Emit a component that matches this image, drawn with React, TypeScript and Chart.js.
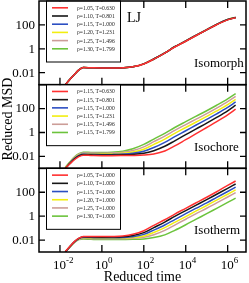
import React, { useEffect, useRef } from "react";
import { Chart, registerables } from "chart.js";
Chart.register(...registerables);

// shared reduced-time grid
const times = [0.018, 0.03, 0.05, 0.08, 0.13, 0.3, 1, 3, 10, 30, 100, 300, 1000, 3000, 1e4, 3e4, 1e5, 3e5, 1e6, 2.4e6];

const colors = ["#ff3030", "#161616", "#2c4fc2", "#f2ee10", "#cc9d98", "#6cc33c"];

const xTickValues = [1e-2, 1, 1e2, 1e4, 1e6];
const xTickExponents = ["-2", "0", "2", "4", "6"];
const yTickValues = [0.01, 1, 100];
const yTickLabels = ["0.01", "1", "100"];

// Isomorph panel
const isomorphLabels = ["ρ=1.05, T=0.630", "ρ=1.10, T=0.801", "ρ=1.15, T=1.000", "ρ=1.20, T=1.231", "ρ=1.25, T=1.496", "ρ=1.30, T=1.799"];
const isomorph105 = [0.001, 0.0028, 0.0075, 0.017, 0.027, 0.026, 0.025, 0.025, 0.026, 0.031, 0.054, 0.135, 0.43, 1.42, 4.3, 12.3, 38, 104, 265, 400];
const isomorph110 = [0.001, 0.0028, 0.0075, 0.017, 0.027, 0.026, 0.025, 0.025, 0.026, 0.031, 0.055, 0.14, 0.44, 1.48, 4.45, 12.8, 39, 108, 275, 412];
const isomorph115 = [0.001, 0.0028, 0.0075, 0.017, 0.027, 0.026, 0.025, 0.025, 0.026, 0.031, 0.055, 0.14, 0.45, 1.5, 4.5, 13, 40, 110, 280, 418];
const isomorph120 = [0.001, 0.0028, 0.0075, 0.017, 0.027, 0.026, 0.025, 0.025, 0.026, 0.031, 0.055, 0.14, 0.45, 1.5, 4.5, 13, 40, 110, 282, 420];
const isomorph125 = [0.001, 0.0028, 0.0075, 0.017, 0.027, 0.026, 0.025, 0.025, 0.026, 0.031, 0.055, 0.14, 0.45, 1.5, 4.5, 13, 40, 111, 283, 422];
const isomorph130 = [0.001, 0.0028, 0.0075, 0.017, 0.027, 0.026, 0.025, 0.025, 0.026, 0.031, 0.055, 0.14, 0.45, 1.5, 4.5, 13, 40, 111, 284, 424];

// Isochore panel
const isochoreLabels = ["ρ=1.15, T=0.630", "ρ=1.15, T=0.801", "ρ=1.15, T=1.000", "ρ=1.15, T=1.231", "ρ=1.15, T=1.496", "ρ=1.15, T=1.799"];
const isochoreT0630 = [0.001, 0.0024, 0.0055, 0.0095, 0.0125, 0.012, 0.0115, 0.0115, 0.0117, 0.012, 0.013, 0.016, 0.028, 0.075, 0.25, 0.75, 2.6, 8, 30, 88];
const isochoreT0801 = [0.001, 0.0026, 0.0062, 0.011, 0.014, 0.0135, 0.013, 0.013, 0.0135, 0.0145, 0.018, 0.03, 0.07, 0.2, 0.65, 1.9, 6, 18, 65, 190];
const isochoreT1000 = [0.001, 0.0028, 0.007, 0.012, 0.0155, 0.015, 0.0145, 0.0147, 0.0155, 0.018, 0.027, 0.055, 0.15, 0.45, 1.4, 4, 12.5, 36, 125, 355];
const isochoreT1231 = [0.0011, 0.003, 0.0076, 0.0135, 0.017, 0.0167, 0.0163, 0.0167, 0.018, 0.023, 0.04, 0.1, 0.28, 0.85, 2.6, 7.2, 22, 63, 215, 600];
const isochoreT1496 = [0.0011, 0.0032, 0.0082, 0.015, 0.0195, 0.019, 0.0185, 0.019, 0.022, 0.031, 0.062, 0.17, 0.5, 1.5, 4.6, 12.5, 38, 110, 380, 1060];
const isochoreT1799 = [0.0012, 0.0035, 0.009, 0.0165, 0.022, 0.0215, 0.021, 0.022, 0.027, 0.043, 0.1, 0.28, 0.85, 2.6, 8, 22, 66, 190, 650, 1800];

// Isotherm panel
const isothermLabels = ["ρ=1.05, T=1.000", "ρ=1.10, T=1.000", "ρ=1.15, T=1.000", "ρ=1.20, T=1.000", "ρ=1.25, T=1.000", "ρ=1.30, T=1.000"];
const isothermR105 = [0.0011, 0.003, 0.0078, 0.0145, 0.02, 0.02, 0.0195, 0.02, 0.022, 0.03, 0.06, 0.17, 0.5, 1.5, 4.5, 12.5, 38, 110, 370, 870];
const isothermR110 = [0.001, 0.0029, 0.0075, 0.014, 0.0185, 0.018, 0.0175, 0.0178, 0.019, 0.024, 0.042, 0.11, 0.32, 0.95, 2.9, 8, 24, 68, 210, 490];
const isothermR115 = [0.001, 0.0028, 0.007, 0.013, 0.0165, 0.016, 0.0155, 0.0157, 0.0165, 0.019, 0.03, 0.068, 0.18, 0.52, 1.6, 4.4, 13, 37, 115, 270];
const isothermR120 = [0.001, 0.0027, 0.0068, 0.0125, 0.015, 0.0145, 0.014, 0.0141, 0.0146, 0.016, 0.022, 0.043, 0.11, 0.3, 0.92, 2.6, 7.8, 22, 68, 155];
const isothermR125 = [0.001, 0.0027, 0.0066, 0.012, 0.0135, 0.013, 0.0127, 0.0127, 0.013, 0.0138, 0.017, 0.028, 0.065, 0.18, 0.55, 1.55, 4.6, 13, 40, 92];
const isothermR130 = [0.001, 0.0026, 0.0064, 0.0112, 0.012, 0.0115, 0.011, 0.011, 0.0112, 0.0115, 0.0125, 0.016, 0.027, 0.065, 0.19, 0.53, 1.6, 4.5, 14, 32];

const panels = [
  { id: "y1", name: "Isomorph", labels: isomorphLabels, series: [isomorph105, isomorph110, isomorph115, isomorph120, isomorph125, isomorph130] },
  { id: "y2", name: "Isochore", labels: isochoreLabels, series: [isochoreT0630, isochoreT0801, isochoreT1000, isochoreT1231, isochoreT1496, isochoreT1799] },
  { id: "y3", name: "Isotherm", labels: isothermLabels, series: [isothermR105, isothermR110, isothermR115, isothermR120, isothermR125, isothermR130] },
];

const SERIF = '"Liberation Serif", "DejaVu Serif", serif';

const decor = {
  id: "decor",
  afterDatasetsDraw(chart: any) {
    const ctx = chart.ctx;
    const a = chart.chartArea;
    const xs = chart.scales.x;
    ctx.save();
    panels.forEach((p) => {
      const s = chart.scales[p.id];
      const top = s.top;
      const bottom = s.bottom;
      // frame
      ctx.strokeStyle = "#000";
      ctx.lineWidth = 1.5;
      ctx.strokeRect(a.left, top, a.right - a.left, bottom - top);
      // y ticks
      ctx.lineWidth = 1.3;
      yTickValues.forEach((v, i) => {
        const y = s.getPixelForValue(v);
        ctx.beginPath();
        ctx.moveTo(a.left, y);
        ctx.lineTo(a.left + 6, y);
        ctx.moveTo(a.right, y);
        ctx.lineTo(a.right - 6, y);
        ctx.stroke();
        ctx.fillStyle = "#000";
        ctx.font = "13px " + SERIF;
        ctx.textAlign = "right";
        ctx.textBaseline = "middle";
        ctx.fillText(yTickLabels[i], a.left - 4, y + 0.5);
      });
      // x ticks
      xTickValues.forEach((v) => {
        const x = xs.getPixelForValue(v);
        ctx.beginPath();
        ctx.moveTo(x, top);
        ctx.lineTo(x, top + 7);
        ctx.moveTo(x, bottom);
        ctx.lineTo(x, bottom - 7);
        ctx.stroke();
      });
      // legend box (drawn over the ticks)
      const lx = 46, lw = 74, lh = 61;
      ctx.fillStyle = "#fff";
      ctx.fillRect(lx, top + 0.75, lw, lh);
      ctx.lineWidth = 1;
      ctx.strokeStyle = "#000";
      ctx.strokeRect(lx + 0.5, top, lw, lh);
      p.labels.forEach((lab, i) => {
        const yy = top + 6.8 + i * 8.2;
        ctx.strokeStyle = colors[i];
        ctx.lineWidth = 1.6;
        ctx.beginPath();
        ctx.moveTo(52, yy);
        ctx.lineTo(68, yy);
        ctx.stroke();
        ctx.fillStyle = "#222";
        ctx.font = "5.6px " + SERIF;
        ctx.textAlign = "left";
        ctx.textBaseline = "middle";
        ctx.fillText(lab, 77, yy + 0.5);
      });
      // panel name
      ctx.fillStyle = "#000";
      ctx.font = "13px " + SERIF;
      ctx.textAlign = "left";
      ctx.textBaseline = "alphabetic";
      ctx.fillText(p.name, 194, top + 66);
    });
    // LJ
    const s1 = chart.scales[panels[0].id];
    ctx.fillStyle = "#000";
    ctx.font = "14px " + SERIF;
    ctx.textAlign = "left";
    ctx.textBaseline = "alphabetic";
    ctx.fillText("LJ", 127, s1.top + 21);
    // x tick labels
    xTickValues.forEach((v, i) => {
      const x = xs.getPixelForValue(v);
      ctx.font = "13px " + SERIF;
      ctx.textAlign = "right";
      ctx.fillText("10", x + 6, 269);
      ctx.font = "9px " + SERIF;
      ctx.textAlign = "left";
      ctx.fillText(xTickExponents[i], x + 6, 263);
    });
    // x title
    ctx.font = "14px " + SERIF;
    ctx.textAlign = "center";
    ctx.fillText("Reduced time", (a.left + a.right) / 2, 281);
    // y title
    ctx.translate(12, 119);
    ctx.rotate(-Math.PI / 2);
    ctx.textAlign = "center";
    ctx.textBaseline = "alphabetic";
    ctx.fillText("Reduced MSD", 0, 0);
    ctx.restore();
  },
};

export default function App() {
  const ref = useRef<HTMLCanvasElement>(null);
  useEffect(() => {
    if (!ref.current) return;
    const datasets: any[] = [];
    panels.forEach((p) => {
      p.series.forEach((vals, i) => {
        datasets.push({
          label: p.labels[i],
          yAxisID: p.id,
          data: times.map((t, k) => ({ x: t, y: vals[k] })),
          borderColor: colors[i],
          borderWidth: 1.5,
          pointRadius: 0,
          fill: false,
          cubicInterpolationMode: "monotone",
        });
      });
    });
    const yScale = () => ({
      type: "logarithmic",
      min: 1e-3,
      max: 1e4,
      position: "left",
      stack: "panels",
      stackWeight: 1,
      display: false,
    });
    const chart = new Chart(ref.current, {
      type: "line",
      data: { datasets },
      options: {
        animation: false,
        responsive: false,
        maintainAspectRatio: false,
        layout: { padding: { left: 39, top: 1, right: 3, bottom: 31 } },
        plugins: { legend: { display: false }, tooltip: { enabled: false } },
        scales: {
          x: { type: "logarithmic", min: 1e-3, max: 7.5e6, display: false },
          y3: yScale(),
          y2: yScale(),
          y1: yScale(),
        } as any,
      },
      plugins: [decor],
    });
    return () => chart.destroy();
  }, []);
  return (
    <div style={{ position: "absolute", left: 0, top: 0, width: 249, height: 283, background: "#fff" }}>
      <canvas ref={ref} width={249} height={283} style={{ display: "block" }} />
    </div>
  );
}
